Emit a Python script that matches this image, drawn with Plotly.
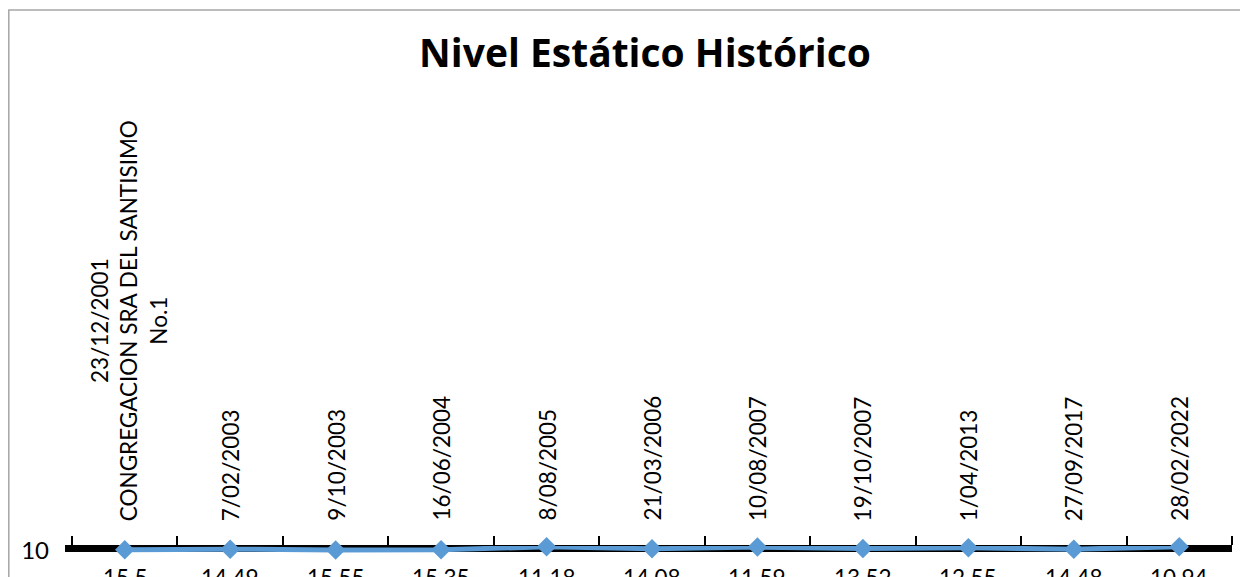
import plotly.graph_objects as go

# categories (fecha / pozo) and static level values
fechas = ["23/12/2001<br>CONGREGACION SRA DEL SANTISIMO<br>No.1", "7/02/2003", "9/10/2003",
          "16/06/2004", "8/08/2005", "21/03/2006", "10/08/2007", "19/10/2007",
          "1/04/2013", "27/09/2017", "28/02/2022"]
nivel = [15.5, 14.49, 15.55, 15.35, 11.18, 14.08, 11.59, 13.52, 12.55, 14.48, 10.94]
y_ticks = [10]

cats = list(range(len(fechas)))
FONT = "Lato"
# page body has an 8px margin, so the figure is 8px smaller each way
W, H = 1240, 569
ML, MR, MT, MB = 64, 16, 538, 0
plot_w = W - ML - MR
plot_h = H - MT - MB


def px_x(x):
    return (x - ML) / plot_w


def px_y(y):
    return (H - MB - y) / plot_h


fig = go.Figure()
fig.add_trace(go.Scatter(
    x=cats, y=nivel, mode="lines+markers",
    line=dict(color="#5B9BD5", width=5),
    marker=dict(symbol="diamond", size=15, color="#5B9BD5"),
    cliponaxis=False, showlegend=False,
))

# data labels under the points (all on one row, as in the original)
for c, v in zip(cats, nivel):
    fig.add_annotation(x=c, xref="x", y=px_y(554), yref="paper", text=str(v),
                       showarrow=False, xanchor="center", yanchor="top",
                       font=dict(family=FONT, size=22.5, color="#000000"))

# rotated category labels above the axis
for c, lab in zip(cats, fechas):
    fig.add_annotation(x=c, xref="x", y=px_y(515), yref="paper",
                       text=lab, textangle=-90, showarrow=False,
                       xanchor="center", yanchor="bottom", align="center",
                       xshift=4 if "<br>" in lab else 0,
                       font=dict(family=FONT, size=22.5, color="#000000"))

# thick black category axis line
fig.add_shape(type="line", xref="paper", yref="paper",
              x0=px_x(57), x1=1.0, y0=px_y(540.5), y1=px_y(540.5),
              line=dict(color="#000000", width=7), layer="below")

# chart border
fig.add_shape(type="rect", xref="paper", yref="paper",
              x0=px_x(0.8), x1=px_x(1245), y0=-0.5, y1=px_y(2),
              line=dict(color="#A6A6A6", width=1.5), layer="below")

# tick marks sit between categories
boundaries = [c - 0.5 for c in cats] + [cats[-1] + 0.5]

fig.update_layout(
    width=W, height=H,
    margin=dict(l=ML, r=MR, t=MT, b=MB),
    paper_bgcolor="white", plot_bgcolor="white",
    title=dict(text="<b>Nivel Estático Histórico</b>", x=px_x(637), xref="paper",
               xanchor="center", y=1 - 45 / H, yref="container", yanchor="middle",
               font=dict(family="Open Sans", size=39, color="#000000")),
    xaxis=dict(side="top", range=[-0.5, len(fechas) - 0.5], tickmode="array",
               tickvals=boundaries, ticktext=["" for _ in boundaries], ticks="outside",
               ticklen=9, tickwidth=1.5, tickcolor="#000000", showgrid=False,
               showline=False, zeroline=False, fixedrange=True),
    yaxis=dict(range=[10 + plot_h / 0.7, 10], tickmode="array", tickvals=y_ticks,
               ticktext=[str(v) for v in y_ticks], ticks="", showgrid=False, zeroline=False,
               showline=False, ticklabelstandoff=22, ticklabelshift=-5,
               tickfont=dict(family=FONT, size=24, color="#000000")),
)

fig.write_html("out.html")
